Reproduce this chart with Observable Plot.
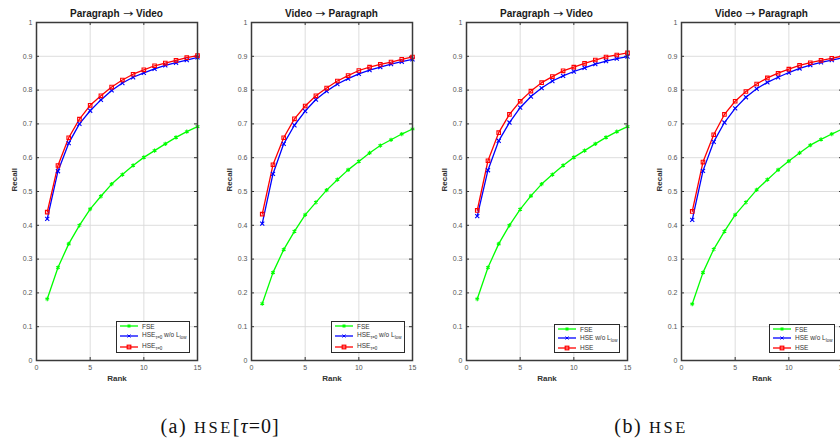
<!DOCTYPE html>
<html><head><meta charset="utf-8">
<script src="https://cdn.jsdelivr.net/npm/d3@7"></script>
<script src="https://cdn.jsdelivr.net/npm/@observablehq/plot@0.6"></script>
<style>
html,body{margin:0;padding:0;background:#fff;}
body{width:840px;height:440px;overflow:hidden;position:relative;font-family:"Liberation Sans",Arial,sans-serif;}
.panel{position:absolute;top:0;width:215px;height:385px;}
.title{position:absolute;top:7px;height:14px;line-height:14px;text-align:center;font-size:10px;font-weight:bold;color:#1a1a1a;white-space:nowrap;}
.title .arr{font-family:"DejaVu Sans",sans-serif;font-weight:normal;font-size:10px;display:inline-block;transform:scaleX(1.25);margin:0 4px;}
.legend{position:absolute;border:1px solid #2a2a2a;background:#fff;font-size:6.5px;color:#333;box-sizing:border-box;padding:0 0 0 3px;display:flex;flex-direction:column;justify-content:space-around;}
.legend .row{display:flex;align-items:center;white-space:nowrap;}
.legend svg{margin-right:4px;flex:none;}
.legend sub{font-size:4.5px;vertical-align:-2px;}
.cap{position:absolute;top:416px;font-family:"Liberation Serif","DejaVu Serif",serif;font-size:20px;line-height:20px;transform:translateX(-50%);white-space:nowrap;color:#111;}
.cap .lab{letter-spacing:1.5px;margin-right:7px;}
.cap .sc{font-size:16.5px;letter-spacing:2.5px;}
.cap .br{letter-spacing:1px;}
.cap i{font-style:italic;}
</style></head><body>
<script>
// ---- data ----
const rank = [1,2,3,4,5,6,7,8,9,10,11,12,13,14,15];
const xTicks = [0,5,10,15];
const yTicks = [0,0.1,0.2,0.3,0.4,0.5,0.6,0.7,0.8,0.9,1];
const titleParts = [["Paragraph","Video"],["Video","Paragraph"],["Paragraph","Video"],["Video","Paragraph"]];
const captionLabels = ["(a)","(b)"];
const captionMethods = ["HSE","HSE"];
const captionSuffix = ["[<i>\u03c4</i>=0]",""];
const legendA = ["FSE","HSE<sub>\u03c4=0</sub> w/o L<sub>low</sub>","HSE<sub>\u03c4=0</sub>"];
const legendB = ["FSE","HSE w/o L<sub>low</sub>","HSE"];

// (a) HSE[tau=0], Paragraph -> Video
const fse_a_p2v   = [0.182,0.275,0.345,0.400,0.448,0.486,0.522,0.550,0.577,0.601,0.621,0.641,0.660,0.677,0.692];
const nolow_a_p2v = [0.419,0.560,0.643,0.700,0.739,0.771,0.799,0.821,0.838,0.851,0.863,0.873,0.881,0.889,0.897];
const hse_a_p2v   = [0.439,0.577,0.659,0.714,0.755,0.783,0.809,0.830,0.847,0.860,0.872,0.880,0.888,0.896,0.902];
// (a) Video -> Paragraph
const fse_a_v2p   = [0.168,0.260,0.328,0.382,0.431,0.468,0.504,0.535,0.564,0.589,0.614,0.636,0.653,0.670,0.685];
const nolow_a_v2p = [0.405,0.552,0.641,0.696,0.738,0.772,0.797,0.818,0.834,0.848,0.859,0.868,0.877,0.884,0.891];
const hse_a_v2p   = [0.433,0.579,0.659,0.715,0.753,0.783,0.806,0.827,0.843,0.858,0.868,0.876,0.883,0.891,0.898];
// (b) HSE, Paragraph -> Video
const fse_b_p2v   = [0.182,0.275,0.345,0.400,0.447,0.487,0.522,0.550,0.577,0.601,0.621,0.641,0.660,0.677,0.692];
const nolow_b_p2v = [0.427,0.563,0.650,0.704,0.748,0.781,0.806,0.827,0.842,0.855,0.866,0.877,0.886,0.893,0.899];
const hse_b_p2v   = [0.444,0.591,0.674,0.728,0.767,0.797,0.822,0.840,0.857,0.868,0.879,0.889,0.898,0.904,0.910];
// (b) Video -> Paragraph
const fse_b_v2p   = [0.167,0.260,0.329,0.382,0.431,0.468,0.505,0.535,0.564,0.590,0.614,0.637,0.654,0.670,0.685];
const nolow_b_v2p = [0.416,0.561,0.647,0.704,0.746,0.779,0.804,0.823,0.838,0.852,0.864,0.874,0.882,0.889,0.895];
const hse_b_v2p   = [0.441,0.587,0.668,0.728,0.767,0.796,0.818,0.836,0.850,0.862,0.873,0.881,0.888,0.894,0.901];

const seriesKeys = ["fse","nolow","hse"];
const seriesColors = ["#00ff00","#0000ff","#ff0000"];
const seriesSymbols = ["asterisk","times","square"];

const panels = [
  {title:titleParts[0], s:[fse_a_p2v,nolow_a_p2v,hse_a_p2v], legend:legendA},
  {title:titleParts[1], s:[fse_a_v2p,nolow_a_v2p,hse_a_v2p], legend:legendA},
  {title:titleParts[2], s:[fse_b_p2v,nolow_b_p2v,hse_b_p2v], legend:legendB},
  {title:titleParts[3], s:[fse_b_v2p,nolow_b_v2p,hse_b_v2p], legend:legendB}
];

const W = 215, H = 385, ML = 36, MR = 18, MT = 22, MB = 25;
const PW = W - ML - MR, PH = H - MT - MB;

function swatch(k){
  const c = seriesColors[k];
  let m;
  if (k===0) m = `<path d="M7.5,1.5h3v3h-3z" fill="${c}"/>`;
  else if (k===1) m = `<path d="M7.5,1.5l3,3M10.5,1.5l-3,3" stroke="${c}" stroke-width="1"/>`;
  else m = `<rect x="7.2" y="1.2" width="3.6" height="3.6" fill="none" stroke="${c}" stroke-width="1.2"/>`;
  return `<svg width="18" height="6"><line x1="0" y1="3" x2="18" y2="3" stroke="${c}" stroke-width="1.3"/>${m}</svg>`;
}

panels.forEach((p, i) => {
  const data = [];
  p.s.forEach((arr, k) => arr.forEach((v, j) => data.push({rank: rank[j], recall: v, s: seriesKeys[k]})));
  const chart = Plot.plot({
    width: W, height: H, marginLeft: ML, marginRight: MR, marginTop: MT, marginBottom: MB,
    x: {domain: [0, 15]},
    y: {domain: [0, 1]},
    color: {domain: seriesKeys, range: seriesColors},
    symbol: {domain: seriesKeys, range: seriesSymbols},
    style: {fontFamily: "'Liberation Sans', Arial, sans-serif", fontSize: "7px", color: "#555", background: "transparent", overflow: "visible"},
    marks: [
      Plot.gridX(xTicks, {stroke: "#d9d9d9", strokeOpacity: 1, strokeWidth: 0.9}),
      Plot.gridY(yTicks, {stroke: "#d9d9d9", strokeOpacity: 1, strokeWidth: 0.9}),
      Plot.tickX(xTicks, {x: d => d, insetTop: PH - 3, stroke: "#333"}),
      Plot.tickX(xTicks, {x: d => d, insetBottom: PH - 3, stroke: "#333"}),
      Plot.tickY(yTicks, {y: d => d, insetRight: PW - 3, stroke: "#333"}),
      Plot.tickY(yTicks, {y: d => d, insetLeft: PW - 3, stroke: "#333"}),
      Plot.axisX({ticks: xTicks, tickSize: 0, tickPadding: 5, label: null, fill: "#555"}),
      Plot.axisY({ticks: yTicks, tickSize: 0, tickPadding: 4, label: null, fill: "#555", tickFormat: d => String(+d.toFixed(1))}),
      Plot.line(data, {x: "rank", y: "recall", z: "s", stroke: "s", strokeWidth: 1.3}),
      Plot.dot(data, {x: "rank", y: "recall", stroke: "s", symbol: "s", r: 2, strokeWidth: 1.1}),
      Plot.frame({stroke: "#3a3a3a", strokeWidth: 1.5}),
      Plot.text(["Rank"], {text: d => d, frameAnchor: "bottom", dy: 18, lineAnchor: "middle", fontWeight: "bold", fontSize: 8, fill: "#333"}),
      Plot.text(["Recall"], {text: d => d, frameAnchor: "left", dx: -22, rotate: -90, fontWeight: "bold", fontSize: 8, fill: "#333"})
    ]
  });
  const div = document.createElement("div");
  div.className = "panel";
  div.style.left = (W * i) + "px";
  div.appendChild(chart);
  const t = document.createElement("div");
  t.className = "title";
  t.style.left = ML + "px"; t.style.width = PW + "px";
  t.innerHTML = `${p.title[0]}<span class="arr">\u2192</span>${p.title[1]}`;
  div.appendChild(t);
  const lg = document.createElement("div");
  lg.className = "legend";
  if (p.legend === legendA) {
    lg.style.left = "116px"; lg.style.top = "321px"; lg.style.width = "74px"; lg.style.height = "32px";
  } else {
    lg.style.left = "124px"; lg.style.top = "324px"; lg.style.width = "66px"; lg.style.height = "29px";
  }
  lg.innerHTML = p.legend.map((t, k) => `<div class="row">${swatch(k)}<span>${t}</span></div>`).join("");
  div.appendChild(lg);
  document.body.appendChild(div);
});

[220, 651].forEach((cx, i) => {
  const c = document.createElement("div");
  c.className = "cap";
  c.style.left = cx + "px";
  c.innerHTML = `<span class="lab">${captionLabels[i]}</span><span class="sc">${captionMethods[i]}</span><span class="br">${captionSuffix[i]}</span>`;
  document.body.appendChild(c);
});
</script>
</body></html>
